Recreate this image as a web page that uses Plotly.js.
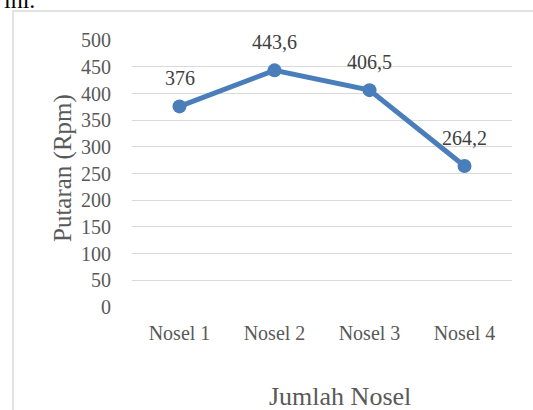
<!DOCTYPE html>
<html><head><meta charset="utf-8">
<script src="https://cdn.plot.ly/plotly-3.0.1.min.js"></script>
<style>html,body{margin:0;padding:0;background:#fff}#c{width:533px;height:410px}</style>
</head><body><div id="c"></div>
<script>
const categories = ["Nosel 1", "Nosel 2", "Nosel 3", "Nosel 4"];
const rpm = [376, 443.6, 406.5, 264.2];
const yTicks = [0, 50, 100, 150, 200, 250, 300, 350, 400, 450, 500];
const xTitle = "Jumlah Nosel";
const yTitle = "Putaran (Rpm)";

const font = "Liberation Serif, 'Times New Roman', serif";
const grey = "#595959";
const blue = "#4A7EBB";

// plot area in pixels
const L = 132, R = 512, T = 40, B = 307;
const px = v => (v - L) / (R - L);
const py = v => (B - v) / (B - T);

const trace = {
  x: categories, y: rpm, type: "scatter", mode: "lines+markers",
  line: {color: blue, width: 5}, marker: {color: blue, size: 14},
  hoverinfo: "skip", cliponaxis: false
};

const annotations = categories.map((c, i) => ({
  x: c, y: rpm[i], xref: "x", yref: "y", showarrow: false,
  text: String(rpm[i]).replace(".", ","), yshift: 28,
  font: {family: font, size: 20, color: "#404040"}
}));
annotations.push({x: px(2), y: py(0), xref: "paper", yref: "paper", xanchor: "left", yanchor: "middle",
  text: "ini.", showarrow: false, font: {family: font, size: 24, color: "#000"}});
annotations.push({x: px(340), y: py(396), xref: "paper", yref: "paper", xanchor: "center", yanchor: "middle",
  text: xTitle, showarrow: false, font: {family: font, size: 26, color: grey}});
annotations.push({x: px(63), y: py(168), xref: "paper", yref: "paper", xanchor: "center", yanchor: "middle",
  text: yTitle, textangle: -90, showarrow: false, font: {family: font, size: 25, color: grey}});

const layout = {
  width: 533, height: 410,
  margin: {l: L, r: 533 - R, t: T, b: 410 - B},
  paper_bgcolor: "#fff", plot_bgcolor: "#fff",
  showlegend: false,
  font: {family: font, color: grey},
  xaxis: {
    type: "category", showgrid: false, zeroline: false, showline: false,
    ticks: "outside", ticklen: 8, tickcolor: "rgba(0,0,0,0)",
    tickfont: {family: font, size: 20, color: grey},
    range: [-0.5, 3.5]
  },
  yaxis: {
    range: [0, 500.5], tickvals: yTicks, ticktext: yTicks.map(String),
    showgrid: true, gridcolor: "#D9D9D9", gridwidth: 1,
    zeroline: false, showline: false,
    ticks: "outside", ticklen: 16, tickcolor: "rgba(0,0,0,0)",
    tickfont: {family: font, size: 20, color: grey}
  },
  annotations: annotations,
  shapes: [{type: "rect", xref: "paper", yref: "paper",
    x0: px(13), x1: px(545), y0: py(440), y1: py(11),
    line: {color: "#D9D9D9", width: 1.5}, fillcolor: "rgba(0,0,0,0)", layer: "below"}]
};

Plotly.newPlot("c", [trace], layout, {displayModeBar: false, staticPlot: true});
</script></body></html>
